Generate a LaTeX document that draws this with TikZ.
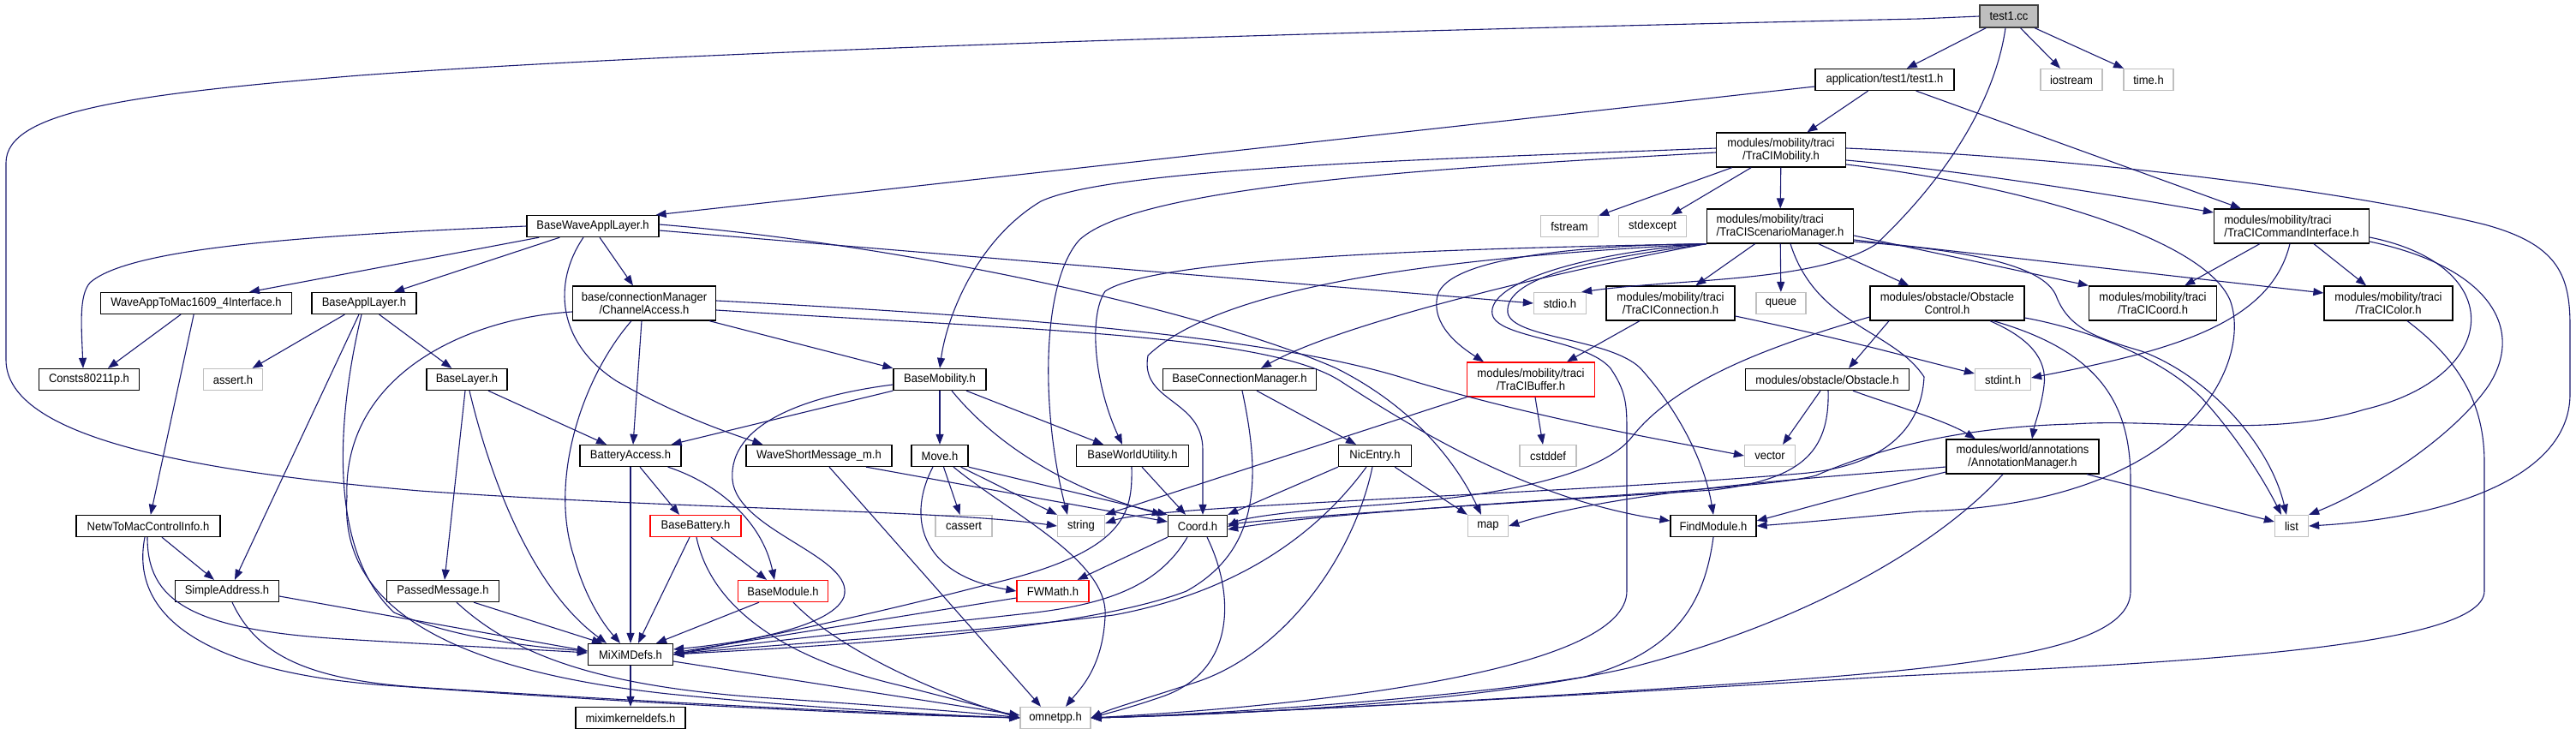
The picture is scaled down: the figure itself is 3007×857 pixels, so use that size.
\documentclass[tikz,border=0pt]{standalone}
\usepackage{fontspec}
\setmainfont{Liberation Sans}[FakeStretch=0.93]
\usetikzlibrary{arrows.meta}
\definecolor{edgec}{HTML}{191970}
\definecolor{grayb}{HTML}{BFBFBF}
\definecolor{redb}{HTML}{FF0000}
\newcommand{\nodefont}{\fontsize{14}{15}\selectfont}
\tikzset{
  nb/.style={draw=black, line width=1.3pt, fill=white, inner sep=0pt, minimum height=25pt, font=\nodefont, text=black},
  ng/.style={nb, draw=grayb},
  nr/.style={nb, draw=redb},
  two/.style={minimum height=40pt, align=center},
  twol/.style={minimum height=40pt, align=left},
  e/.style={draw=edgec, line width=1.1pt, -{Triangle[length=12pt,width=9pt]}},
}
\begin{document}
\begin{tikzpicture}[x=1pt,y=-1pt]
\useasboundingbox (0,0) rectangle (3007,857);
\fill[white] (0,0) rectangle (3007,857);
% ---------------- nodes ----------------
\node[nb, fill=grayb, draw=black!75, minimum width=68pt, minimum height=26pt] (t1cc) at (2345,19) {test1.cc};
\node[nb, minimum width=162pt] (t1h) at (2200,93) {application/test1/test1.h};
\node[ng, minimum width=72pt] (iostream) at (2418,93) {iostream};
\node[ng, minimum width=58pt] (timeh) at (2508,93) {time.h};
\node[nb, two, minimum width=151pt] (tmob) at (2079,175) {modules/mobility/traci\\/TraCIMobility.h};
\node[nb, minimum width=154pt] (bwal) at (692,264) {BaseWaveApplLayer.h};
\node[ng, minimum width=67pt] (fstream) at (1832,264) {fstream};
\node[ng, minimum width=79pt] (stdexcept) at (1929,264) {stdexcept};
\node[nb, twol, minimum width=171pt] (tsm) at (2078,264) {modules/mobility/traci\\/TraCIScenarioManager.h};
\node[nb, twol, minimum width=181pt] (tci) at (2675,264) {modules/mobility/traci\\/TraCICommandInterface.h};
\node[nb, minimum width=223pt] (wam) at (229,354) {WaveAppToMac1609\_4Interface.h};
\node[nb, minimum width=122pt] (bal) at (425,354) {BaseApplLayer.h};
\node[nb, two, minimum width=167pt] (chacc) at (752,354) {base/connectionManager\\/ChannelAccess.h};
\node[ng, minimum width=61pt] (stdio) at (1821,354) {stdio.h};
\node[nb, two, minimum width=150pt] (tconn) at (1950,354) {modules/mobility/traci\\/TraCIConnection.h};
\node[ng, minimum width=58pt] (queue) at (2079,354) {queue};
\node[nb, two, minimum width=180pt] (obsctl) at (2273,354) {modules/obstacle/Obstacle\\Control.h};
\node[nb, two, minimum width=149pt] (tcoord) at (2513,354) {modules/mobility/traci\\/TraCICoord.h};
\node[nb, two, minimum width=150pt] (tcolor) at (2788,354) {modules/mobility/traci\\/TraCIColor.h};
\node[nb, minimum width=117pt] (consts) at (104,443) {Consts80211p.h};
\node[ng, minimum width=69pt] (assert) at (272,443) {assert.h};
\node[nb, minimum width=94pt] (bl) at (545,443) {BaseLayer.h};
\node[nb, minimum width=108pt] (basemob) at (1097,443) {BaseMobility.h};
\node[nb, minimum width=179pt] (bcm) at (1447,443) {BaseConnectionManager.h};
\node[nr, two, minimum width=149pt] (tbuf) at (1787,443) {modules/mobility/traci\\/TraCIBuffer.h};
\node[nb, minimum width=191pt] (obstacle) at (2133,443) {modules/obstacle/Obstacle.h};
\node[ng, minimum width=65pt] (stdint) at (2338,443) {stdint.h};
\node[nb, minimum width=118pt] (batt) at (736,532) {BatteryAccess.h};
\node[nb, minimum width=170pt] (wsm) at (956,532) {WaveShortMessage\_m.h};
\node[nb, minimum width=66pt] (move) at (1097,532) {Move.h};
\node[nb, minimum width=131pt] (bwu) at (1322,532) {BaseWorldUtility.h};
\node[nb, minimum width=85pt] (nicentry) at (1605,532) {NicEntry.h};
\node[ng, minimum width=66pt] (cstddef) at (1807,532) {cstddef};
\node[ng, minimum width=59pt] (vector) at (2066,532) {vector};
\node[nb, two, minimum width=178pt] (annot) at (2361,533) {modules/world/annotations\\/AnnotationManager.h};
\node[nb, minimum width=168pt] (netw) at (173,614) {NetwToMacControlInfo.h};
\node[nr, minimum width=106pt] (basebatt) at (812,614) {BaseBattery.h};
\node[ng, minimum width=66pt] (cassert) at (1125,614) {cassert};
\node[ng, minimum width=55pt] (string) at (1262,614) {string};
\node[nb, minimum width=69pt] (coord) at (1398,614) {Coord.h};
\node[ng, minimum width=47pt] (map) at (1737,614) {map};
\node[nb, minimum width=100pt] (findmod) at (2000,614) {FindModule.h};
\node[ng, minimum width=39pt] (list) at (2675,614) {list};
\node[nb, minimum width=121pt] (simpleaddr) at (265,690) {SimpleAddress.h};
\node[nb, minimum width=131pt] (passed) at (517,690) {PassedMessage.h};
\node[nr, minimum width=105pt] (basemod) at (914,690) {BaseModule.h};
\node[nr, minimum width=84pt] (fwmath) at (1229,690) {FWMath.h};
\node[nb, minimum width=99pt] (mixim) at (736,764) {MiXiMDefs.h};
\node[nb, minimum width=128pt] (mkdefs) at (736,838) {miximkerneldefs.h};
\node[ng, minimum width=82pt] (omnetpp) at (1232,838) {omnetpp.h};
% ---------------- edges ----------------
% test1.cc
\draw[e] (t1cc) -- (t1h);
\draw[e] (t1cc) -- (iostream);
\draw[e] (t1cc) -- (timeh);
\draw[e] ([xshift=-4pt]t1cc.south) .. controls (2330,110) and (2280,200) .. (2190,285) .. controls (2120,330) and (1960,325) .. ([xshift=-6pt]stdio.north east);
\draw[e] (t1cc.west) -- (2240,22) .. controls (1500,38) and (800,60) .. (420,88) .. controls (150,110) and (7,130) .. (7,190) -- (7,420) .. controls (7,510) and (220,550) .. (490,573) .. controls (800,595) and (1100,595) .. (string.west);
% test1.h
\draw[e] ([yshift=-8pt]t1h.west) -- ([xshift=-4pt]bwal.north east);
\draw[e] (t1h) -- (tmob);
\draw[e] ([xshift=-45pt]t1h.south east) -- ([xshift=32pt]tci.north west);
% TraCIMobility
\draw[e] (tmob) -- (fstream);
\draw[e] (tmob) -- (stdexcept);
\draw[e] (tmob) -- (tsm);
\draw[e] ([yshift=2pt]tmob.west) .. controls (1700,185) and (1300,195) .. (1215,235) .. controls (1140,280) and (1105,370) .. (basemob.north);
\draw[e] ([yshift=-3pt]tmob.west) .. controls (1700,195) and (1330,215) .. (1260,280) .. controls (1215,330) and (1215,480) .. ([xshift=-16pt]string.north);
\draw[e] ([yshift=-12pt]tmob.east) .. controls (2300,200) and (2480,230) .. ([yshift=16pt]tci.west);
\draw[e] ([yshift=2pt]tmob.east) .. controls (2450,185) and (2750,225) .. (2900,262) .. controls (2985,285) and (3000,320) .. (3000,380) -- (3000,460) .. controls (3000,560) and (2850,605) .. (list.east);
\draw[e] ([yshift=-17pt]tmob.east) .. controls (2350,215) and (2570,275) .. (2603,350) .. controls (2630,420) and (2560,590) .. (2240,597) .. controls (2150,606) and (2090,611) .. (findmod.east);
% BaseWaveApplLayer
\draw[e] (bwal.west) .. controls (350,275) and (150,290) .. (105,330) .. controls (92,345) and (95,380) .. ([xshift=-7pt]consts.north);
\draw[e] ([xshift=15pt]bwal.south west) -- ([xshift=62pt]wam.north);
\draw[e] ([xshift=39pt]bwal.south west) -- ([xshift=35pt]bal.north);
\draw[e] ([xshift=-11pt]bwal.south) .. controls (645,330) and (650,400) .. (720,445) .. controls (790,485) and (850,505) .. ([xshift=20pt]wsm.north west);
\draw[e] ([xshift=8pt]bwal.south) -- ([xshift=-13pt]chacc.north);
\draw[e] ([yshift=-5pt]bwal.east) -- (stdio.west);
\draw[e] ([yshift=2pt]bwal.east) .. controls (1050,285) and (1400,360) .. (1560,430) .. controls (1650,475) and (1700,540) .. ([xshift=-8pt]map.north);
% WaveAppToMac
\draw[e] ([xshift=-18pt]wam.south) -- ([xshift=22pt]consts.north);
\draw[e] (wam) -- (netw);
% BaseApplLayer
\draw[e] (bal) -- (assert);
\draw[e] (bal) -- (bl);
\draw[e] ([xshift=-6pt]bal.south) -- ([xshift=9pt]simpleaddr.north);
\draw[e] ([xshift=-3pt]bal.south) .. controls (395,480) and (380,640) .. (460,715) .. controls (530,745) and (620,755) .. ([yshift=4pt]mixim.west);
% ChannelAccess
\draw[e] ([yshift=-10pt]chacc.west) .. controls (540,372) and (400,440) .. (405,580) .. controls (395,720) and (550,785) .. (780,810) .. controls (950,827) and (1100,835) .. (omnetpp.west);
\draw[e] ([xshift=-15pt]chacc.south) .. controls (680,440) and (640,560) .. (670,650) .. controls (685,705) and (710,735) .. ([xshift=-12pt]mixim.north);
\draw[e] ([xshift=-3pt]chacc.south) -- ([xshift=3pt]batt.north);
\draw[e] ([xshift=-8pt]chacc.south east) -- (basemob.north west);
\draw[e] ([yshift=3pt]chacc.east) .. controls (1200,370) and (1500,395) .. (1650,445) .. controls (1800,490) and (1950,515) .. (vector.west);
\draw[e] ([yshift=-8pt]chacc.east) .. controls (1200,385) and (1480,390) .. (1565,445) .. controls (1680,520) and (1800,585) .. ([yshift=6pt]findmod.west);
% TraCIScenarioManager
\draw[e] (tsm) -- (tconn);
\draw[e] (tsm) -- (queue);
\draw[e] (tsm) -- (obsctl);
\draw[e] ([yshift=-11pt]tsm.east) -- (tcoord.north west);
\draw[e] ([yshift=-16pt]tsm.east) -- ([yshift=12pt]tcolor.west);
\draw[e] ([yshift=-18pt]tsm.east) .. controls (2300,292) and (2385,310) .. (2400,345) .. controls (2415,385) and (2450,395) .. (2500,410) .. controls (2580,440) and (2650,520) .. ([xshift=-6pt]list.north);
\draw[e] (tsm.south west) .. controls (1880,300) and (1755,320) .. (1760,365) .. controls (1765,395) and (1880,395) .. (1915,430) .. controls (1960,480) and (1990,540) .. (findmod.north);
\draw[e] (tsm.south west) .. controls (1850,295) and (1735,330) .. (1742,367) .. controls (1748,395) and (1850,395) .. (1880,430) .. controls (1897,455) and (1899,470) .. (1899,500) -- (1899,690) .. controls (1899,780) and (1560,822) .. (omnetpp.east);
\draw[e] (tsm.south west) .. controls (1850,286) and (1690,300) .. (1678,345) .. controls (1670,380) and (1705,405) .. ([xshift=-55pt]tbuf.north);
\draw[e] (tsm.south west) .. controls (1700,300) and (1430,330) .. (1340,415) .. controls (1330,470) and (1404,465) .. (1404,525) -- ([xshift=6pt]coord.north);
\draw[e] (tsm.south west) .. controls (1800,320) and (1560,380) .. ([xshift=25pt]bcm.north);
\draw[e] (tsm.south west) .. controls (1700,290) and (1350,300) .. (1290,340) .. controls (1270,370) and (1278,450) .. ([xshift=-12pt]bwu.north);
\draw[e] ([xshift=12pt]tsm.south) .. controls (2120,380) and (2210,385) .. (2246,440) .. controls (2243,500) and (2200,545) .. (2100,553) .. controls (1800,578) and (1350,590) .. ([yshift=3pt]string.east);
% TraCICommandInterface
\draw[e] (tci) -- (tcoord);
\draw[e] (tci) -- (tcolor);
\draw[e] ([xshift=-2pt]tci.south) .. controls (2650,380) and (2530,410) .. ([yshift=2pt]stdint.east);
\draw[e] ([yshift=-18pt]tci.east) .. controls (2900,310) and (2950,380) .. (2905,450) .. controls (2860,515) and (2760,575) .. (list.north east);
\draw[e] ([yshift=-13pt]tci.east) .. controls (2930,310) and (2920,440) .. (2760,478) .. controls (2650,512) and (2520,488) .. (2420,495) .. controls (2300,498) and (2200,520) .. (2120,555) .. controls (2050,575) and (1600,590) .. ([yshift=-4pt]coord.east);
% ObstacleControl
\draw[e] ([xshift=-68pt]obsctl.south) -- ([xshift=25pt]obstacle.north);
\draw[e] ([yshift=-16pt]obsctl.west) .. controls (2080,400) and (1960,440) .. (1905,510) .. controls (1870,555) and (1750,580) .. (1600,590) .. controls (1500,597) and (1450,605) .. ([yshift=-1pt]coord.east);
\draw[e] ([xshift=50pt]obsctl.south) .. controls (2370,395) and (2390,420) .. (2386,450) .. controls (2383,475) and (2375,495) .. ([xshift=11pt]annot.north);
\draw[e] ([xshift=54pt]obsctl.south) .. controls (2450,410) and (2487,470) .. (2487,560) -- (2487,690) .. controls (2487,760) and (2300,780) .. (2000,800) .. controls (1700,820) and (1400,835) .. (omnetpp.east);
\draw[e] ([yshift=-17pt]obsctl.east) .. controls (2440,385) and (2530,420) .. (2575,470) .. controls (2615,515) and (2645,565) .. ([xshift=-12pt]list.north);
% Obstacle
\draw[e] ([xshift=-8pt]obstacle.south) -- ([xshift=15pt]vector.north);
\draw[e] ([xshift=1pt]obstacle.south) .. controls (2136,530) and (2100,560) .. (2000,572) .. controls (1800,585) and (1550,600) .. ([yshift=2pt]coord.east);
\draw[e] ([xshift=30pt]obstacle.south) .. controls (2200,470) and (2270,490) .. ([xshift=-55pt]annot.north);
% AnnotationManager
\draw[e] ([xshift=75pt]annot.south) -- ([yshift=5pt]list.west);
\draw[e] ([yshift=-12pt]annot.west) .. controls (2150,556) and (1900,570) .. (map.east);
\draw[e] ([yshift=-18pt]annot.west) .. controls (2150,580) and (2100,595) .. ([yshift=6pt]findmod.east);
\draw[e] ([xshift=-23pt]annot.south) .. controls (2260,640) and (2100,730) .. (1900,780) .. controls (1700,825) and (1400,835) .. (omnetpp.east);
% TraCIColor
\draw[e] ([xshift=22pt]tcolor.south) .. controls (2870,420) and (2900,470) .. (2900,540) -- (2900,690) .. controls (2900,760) and (2500,775) .. (2200,790) .. controls (1800,815) and (1400,835) .. (omnetpp.east);
% TraCIConnection
\draw[e] ([xshift=-36pt]tconn.south) -- ([xshift=42pt]tbuf.north);
\draw[e] ([yshift=-15pt]tconn.east) .. controls (2150,395) and (2240,420) .. ([yshift=7pt]stdint.west);
% TraCIBuffer
\draw[e] ([xshift=5pt]tbuf.south) -- ([xshift=-6pt]cstddef.north);
\draw[e] (tbuf.south west) -- (string.north east);
% NicEntry
\draw[e] ([xshift=-20pt]nicentry.south east) -- (map.north west);
\draw[e] (nicentry.south west) -- (coord.north east);
\draw[e] ([xshift=-10pt]nicentry.south) .. controls (1540,620) and (1450,690) .. (1300,718) .. controls (1100,742) and (900,752) .. (mixim.east);
\draw[e] ([xshift=-3pt]nicentry.south) .. controls (1580,650) and (1500,760) .. (1400,795) .. controls (1340,815) and (1300,826) .. (omnetpp.east);
% BaseConnectionManager
\draw[e] ([xshift=20pt]bcm.south) -- ([xshift=-22pt]nicentry.north);
\draw[e] ([xshift=3pt]bcm.south) .. controls (1470,550) and (1475,640) .. (1385,690) .. controls (1250,742) and (900,757) .. (mixim.east);
% Coord
\draw[e] (coord.south west) -- ([xshift=-14pt]fwmath.north east);
\draw[e] ([xshift=-12pt]coord.south) .. controls (1355,680) and (1300,705) .. (1200,716) .. controls (1000,738) and (860,752) .. (mixim.east);
\draw[e] ([xshift=11pt]coord.south) .. controls (1440,690) and (1445,780) .. (1360,812) .. controls (1320,826) and (1295,832) .. (omnetpp.east);
% FWMath
\draw[e] ([yshift=-8pt]fwmath.west) -- ([yshift=2pt]mixim.east);
% Move
\draw[e] (move) -- (cassert);
\draw[e] ([xshift=-9pt]move.south east) -- (string.north west);
\draw[e] (move.south east) -- (coord.north west);
\draw[e] ([xshift=-8pt]move.south) .. controls (1060,600) and (1070,670) .. (fwmath.west);
\draw[e] ([xshift=16pt]move.south) .. controls (1180,600) and (1295,655) .. (1290,720) .. controls (1287,780) and (1260,805) .. ([xshift=12pt]omnetpp.north);
% BaseMobility
\draw[e] (basemob.south west) -- ([xshift=-12pt]batt.north east);
\draw[e] ([yshift=-6pt]basemob.west) .. controls (940,462) and (850,495) .. (855,560) .. controls (860,620) and (1000,650) .. (985,697) .. controls (970,735) and (850,752) .. ([yshift=6pt]mixim.east);
\draw[e] (basemob) -- (move);
\draw[e] ([xshift=31pt]basemob.south) -- ([xshift=-34pt]bwu.north);
\draw[e] ([xshift=14pt]basemob.south) .. controls (1180,540) and (1280,580) .. ([xshift=-6pt]coord.north west);
% WaveShortMessage
\draw[e] ([xshift=12pt]wsm.south) -- ([xshift=-17pt]omnetpp.north);
\draw[e] ([xshift=55pt]wsm.south) -- ([yshift=5pt]coord.west);
% BaseWorldUtility
\draw[e] ([xshift=11pt]bwu.south) -- ([xshift=-14pt]coord.north);
\draw[e] ([xshift=-1pt]bwu.south) .. controls (1322,600) and (1315,645) .. (1150,683) .. controls (1000,722) and (860,750) .. (mixim.east);
% BatteryAccess
\draw[e] ([xshift=11pt]batt.south) -- ([xshift=-19pt]basebatt.north);
\draw[e] ([xshift=-16pt]batt.south east) .. controls (840,565) and (890,610) .. ([xshift=-10pt]basemod.north);
\draw[e] (batt) -- (mixim);
% BaseBattery
\draw[e] ([xshift=18pt]basebatt.south) -- ([xshift=-19pt]basemod.north);
\draw[e] ([xshift=-7pt]basebatt.south) -- ([xshift=9pt]mixim.north);
\draw[e] ([xshift=1pt]basebatt.south) .. controls (828,700) and (900,765) .. (1050,800) .. controls (1120,818) and (1160,828) .. (omnetpp.west);
% BaseModule
\draw[e] ([xshift=-28pt]basemod.south) -- ([xshift=30pt]mixim.north);
\draw[e] ([xshift=12pt]basemod.south) .. controls (980,760) and (1100,812) .. (omnetpp.west);
% MiXiMDefs
\draw[e] (mixim) -- (mkdefs);
\draw[e] ([yshift=-8pt]mixim.east) -- ([yshift=3pt]omnetpp.west);
% NetwToMacControlInfo
\draw[e] ([xshift=16pt]netw.south) -- ([xshift=-15pt]simpleaddr.north);
\draw[e] ([xshift=-1pt]netw.south) .. controls (172,700) and (220,735) .. (400,746) .. controls (550,755) and (620,758) .. ([yshift=2pt]mixim.west);
\draw[e] ([xshift=-4pt]netw.south) .. controls (150,725) and (250,785) .. (450,800) .. controls (800,825) and (1050,835) .. (omnetpp.west);
% SimpleAddress
\draw[e] ([yshift=-6pt]simpleaddr.east) -- ([yshift=4pt]mixim.west);
\draw[e] ([xshift=6pt]simpleaddr.south) .. controls (300,765) and (360,795) .. (500,803) .. controls (800,822) and (1050,834) .. (omnetpp.west);
% PassedMessage
\draw[e] ([xshift=36pt]passed.south) -- ([xshift=-33pt]mixim.north);
\draw[e] ([xshift=16pt]passed.south) .. controls (600,765) and (700,802) .. (900,815) .. controls (1050,825) and (1150,833) .. (omnetpp.west);
% BaseLayer
\draw[e] ([xshift=25pt]bl.south) -- ([xshift=-28pt]batt.north);
\draw[e] ([xshift=-2pt]bl.south) -- ([xshift=2pt]passed.north);
\draw[e] ([xshift=3pt]bl.south) .. controls (575,570) and (625,690) .. ([xshift=-28pt]mixim.north);
% FindModule
\draw[e] (findmod.south) .. controls (1990,700) and (1960,760) .. (1850,790) .. controls (1700,815) and (1400,835) .. (omnetpp.east);
\end{tikzpicture}
\end{document}
